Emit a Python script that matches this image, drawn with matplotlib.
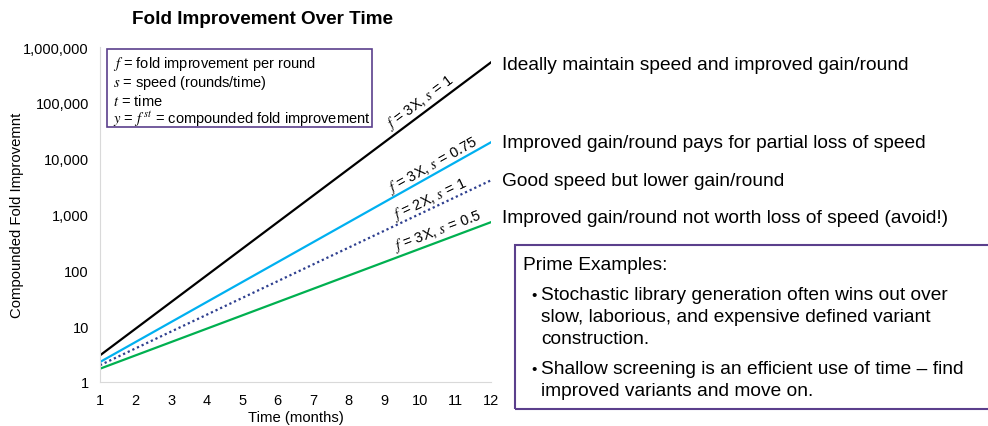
import math
import matplotlib.pyplot as plt
from matplotlib.patches import Rectangle

plt.rcParams['font.family'] = ['Liberation Sans', 'DejaVu Sans']
plt.rcParams['mathtext.fontset'] = 'stix'

# data: compounded fold improvement at month 1 and month 12
months = [1, 12]
fold_3x_s1 = [3, 531441]
fold_3x_s075 = [2.28, 19683]
fold_2x_s1 = [2, 4096]
fold_3x_s05 = [1.73, 729]

series_values = [fold_3x_s1, fold_3x_s075, fold_2x_s1, fold_3x_s05]
series_labels = ['$f$ = 3X, $s$ = 1', '$f$ = 3X, $s$ = 0.75',
                 '$f$ = 2X, $s$ = 1', '$f$ = 3X, $s$ = 0.5']
series_notes = ['Ideally maintain speed and improved gain/round',
                'Improved gain/round pays for partial loss of speed',
                'Good speed but lower gain/round',
                'Improved gain/round not worth loss of speed (avoid!)']
colors = ['#000000', '#00B0F0', '#2E3F8F', '#00B050']
styles = ['-', '-', (0, (1, 1.3)), '-']

y_ticks = [1, 10, 100, 1000, 10000, 100000, 1000000]
y_tick_labels = ['1', '10', '100', '1,000', '10,000', '100,000', '1,000,000']
x_ticks = list(range(1, 13))

definitions = ['$f$ = fold improvement per round',
               '$s$ = speed (rounds/time)',
               '$t$ = time',
               '$y$ = $f^{\\,st}$ = compounded fold improvement']
bullets = [['Stochastic library generation often wins out over',
            'slow, laborious, and expensive defined variant',
            'construction.'],
           ['Shallow screening is an efficient use of time \u2013 find',
            'improved variants and move on.']]

W, H = 988, 427
fig = plt.figure(figsize=(W / 100, H / 100), dpi=100)
ax = fig.add_axes([100 / W, 44 / H, 391 / W, 335 / H])


def fx(px):
    return px / W


def fy(py):
    return 1 - py / H


for vals, c, ls in zip(series_values, colors, styles):
    ax.plot(months, vals, color=c, linestyle=ls, linewidth=1.6)

ax.set_yscale('log')
ax.set_xlim(1, 12)
ax.set_ylim(1, 1000000)
ax.set_yticks(y_ticks)
ax.set_yticklabels(y_tick_labels)
ax.minorticks_off()
ax.set_xticks(x_ticks)
ax.tick_params(length=0, labelsize=10.5, pad=8)
for side in ['top', 'right']:
    ax.spines[side].set_visible(False)
for side in ['left', 'bottom']:
    ax.spines[side].set_color('#d9d9d9')

fig.text(fx(296), fy(418), 'Time (months)', fontsize=10.7, ha='center', va='center')
fig.text(fx(17), fy(215), 'Compounded Fold Improvemnt', fontsize=10.7,
         ha='center', va='center', rotation=90)
fig.text(fx(262), fy(20), 'Fold Improvement Over Time', fontsize=13.6,
         fontweight='bold', ha='center', va='center')

# definition box
fig.patches.append(Rectangle((fx(107), fy(128)), (372 - 107) / W, 78 / H,
                             transform=fig.transFigure, fill=False,
                             ec='#5B3F8C', lw=1.2))
for i, line in enumerate(definitions):
    fig.text(fx(113), fy(64 + 18.5 * i), line, fontsize=10.5, va='center')

# rotated labels along each line
fig.canvas.draw()
label_x = [10.19, 10.49, 10.40, 10.59]
label_off = [11, 9, 10, 11]
for vals, lab, lx, off in zip(series_values, series_labels, label_x, label_off):
    p0 = ax.transData.transform((months[0], vals[0]))
    p1 = ax.transData.transform((months[1], vals[1]))
    ang = math.degrees(math.atan2(p1[1] - p0[1], p1[0] - p0[0]))
    t = (lx - months[0]) / (months[1] - months[0])
    ly = vals[0] * (vals[1] / vals[0]) ** t
    ax.annotate(lab, (lx, ly),
                xytext=(-off * math.sin(math.radians(ang)), off * math.cos(math.radians(ang))),
                textcoords='offset pixels', rotation=ang, rotation_mode='anchor',
                ha='center', va='center', fontsize=10.5)

# notes at right of line ends
note_offsets = [-1.5, 0, 0, 3]
for vals, note, dy in zip(series_values, series_notes, note_offsets):
    ax.annotate(note, (months[1], vals[1]), xytext=(8, dy), textcoords='offset points',
                ha='left', va='center', fontsize=13.8, annotation_clip=False)

# prime examples box
fig.patches.append(Rectangle((fx(515), fy(410)), 0.6, 164 / H, transform=fig.transFigure,
                             fill=False, ec='#5B3F8C', lw=1.5))
fig.text(fx(523), fy(266), 'Prime Examples:', fontsize=13.8, va='center')
bullet_top = [296, 370]
for lines, top in zip(bullets, bullet_top):
    fig.text(fx(531), fy(top), '\u2022', fontsize=11, va='center')
    for j, line in enumerate(lines):
        fig.text(fx(541), fy(top + 22 * j), line, fontsize=13.8, va='center')

fig.savefig('out.png', dpi=100)
